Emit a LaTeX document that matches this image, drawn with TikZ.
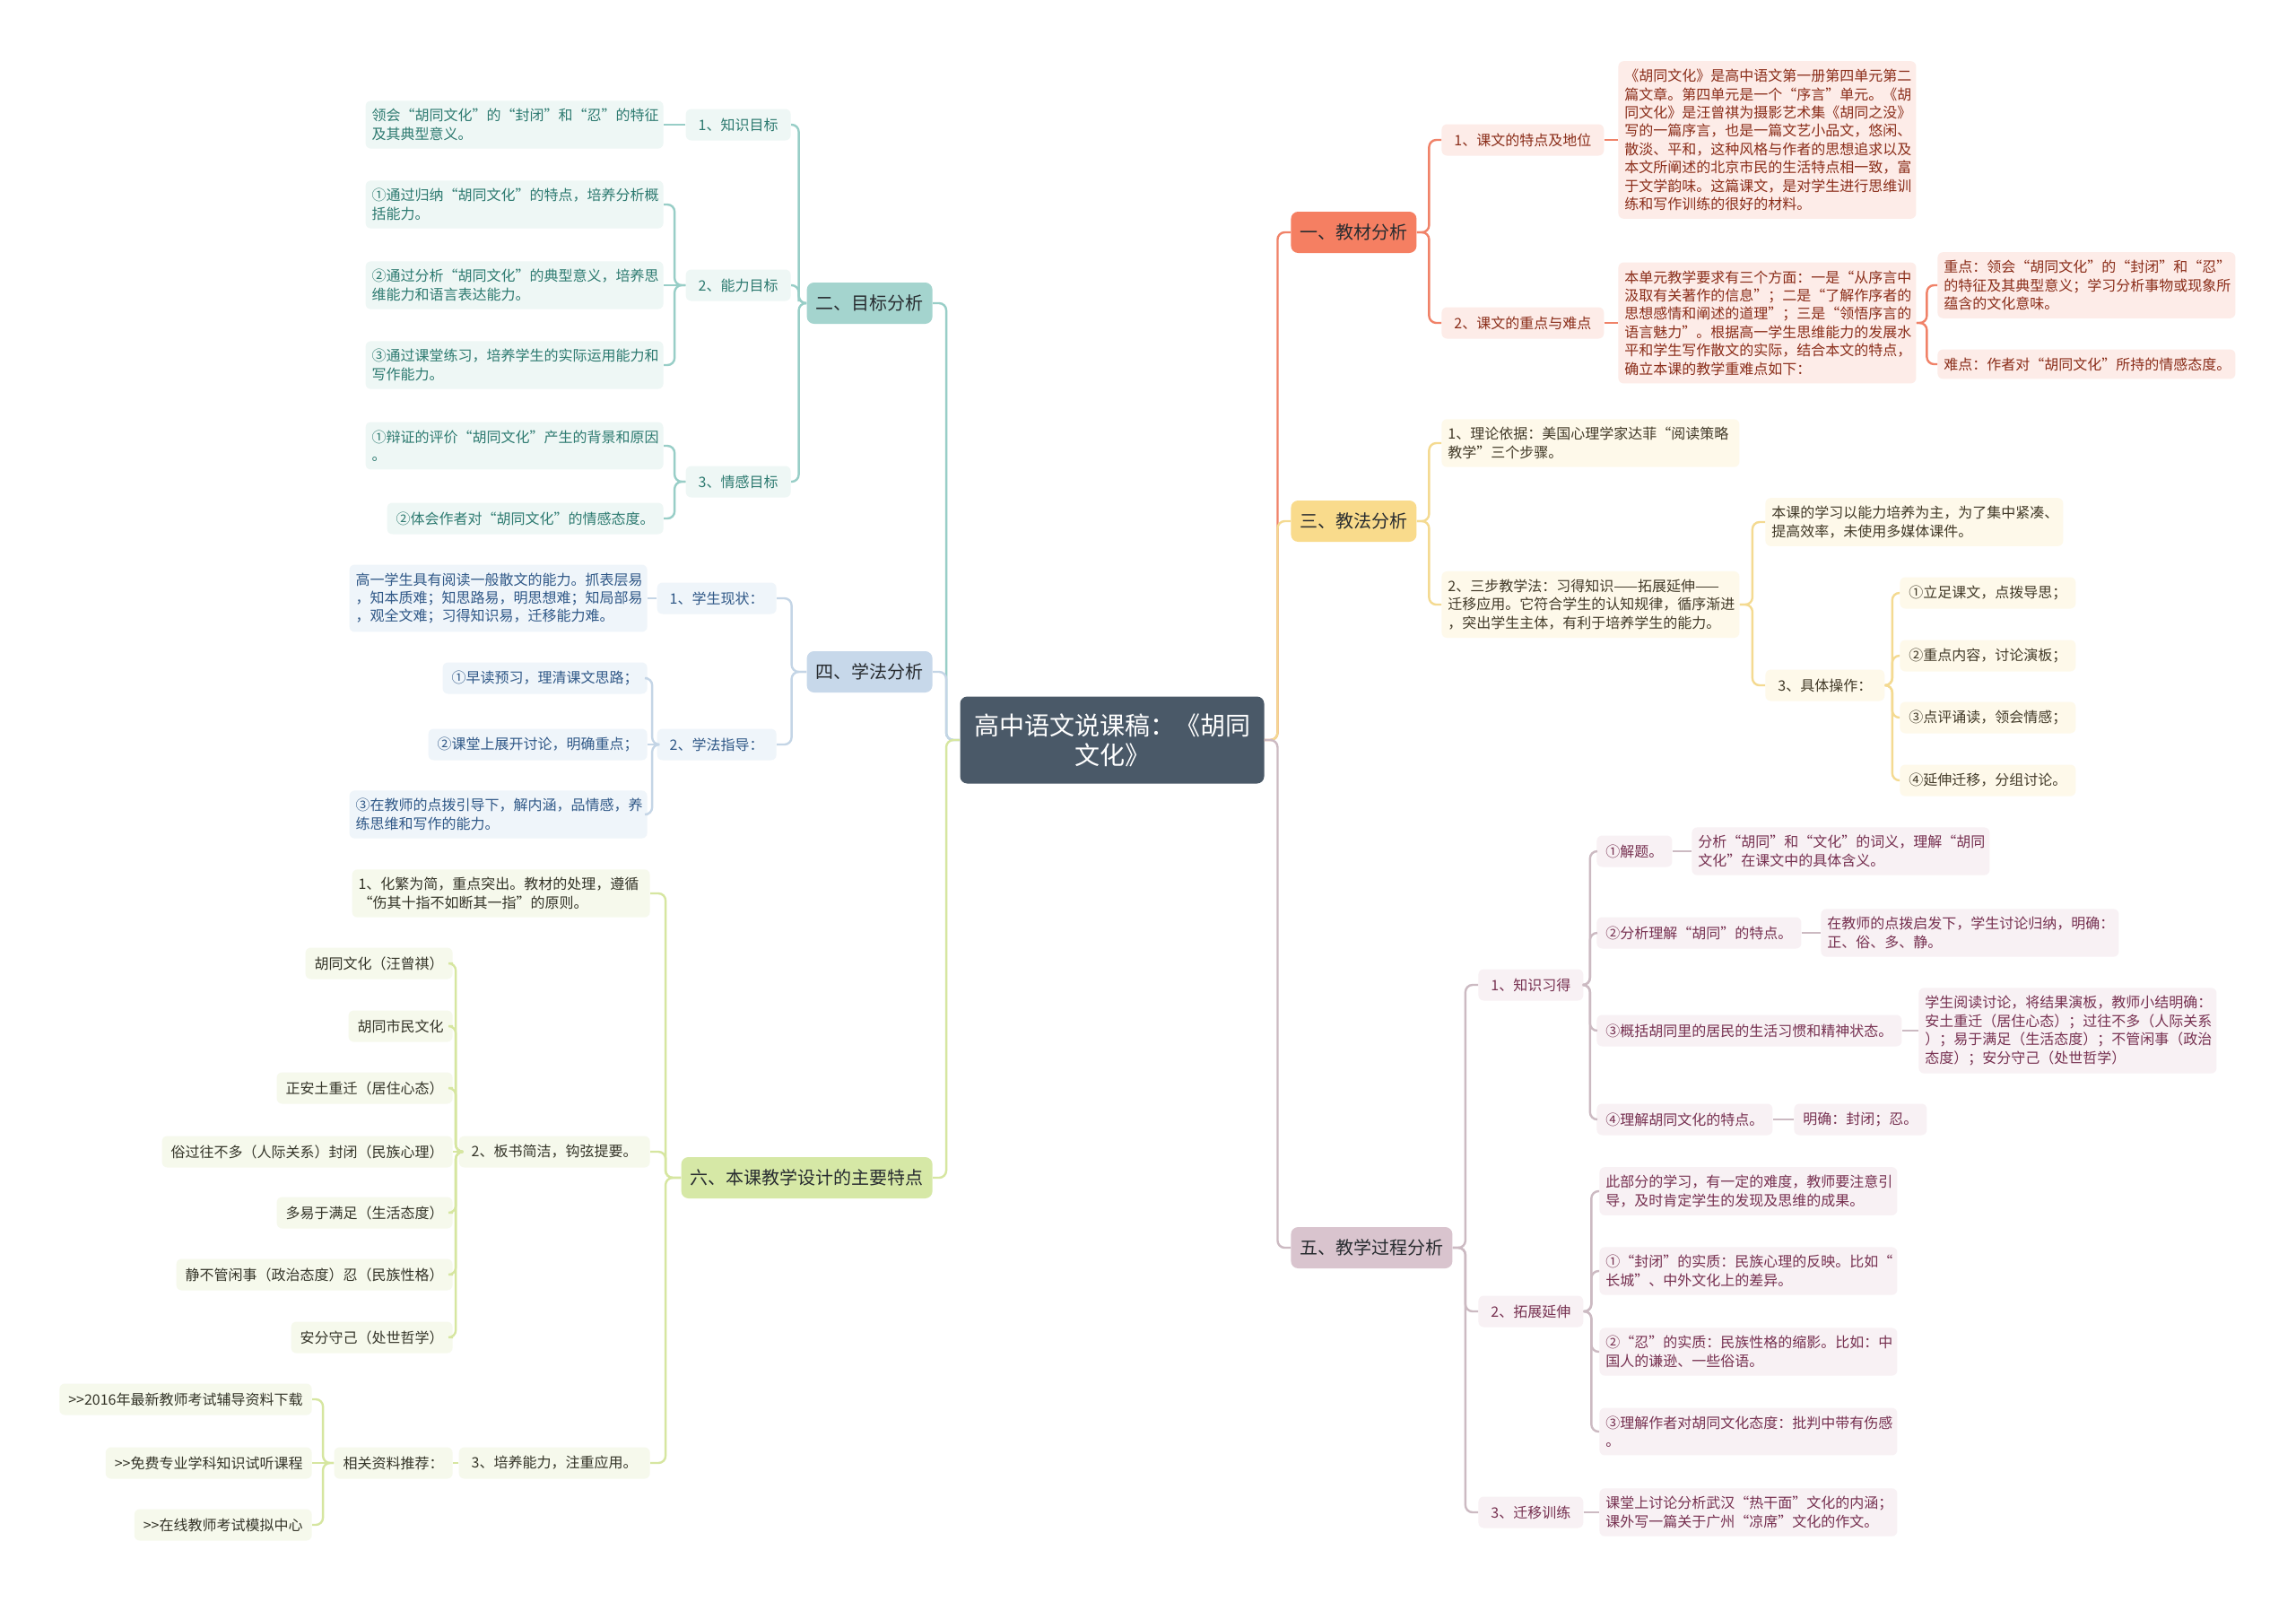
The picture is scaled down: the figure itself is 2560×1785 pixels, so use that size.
\documentclass[tikz,border=0pt]{standalone}
\usepackage{fontspec}
\setmainfont{Noto Sans CJK SC}
\usetikzlibrary{calc}
\definecolor{rootc}{RGB}{74,89,104}
\definecolor{topictxt}{RGB}{40,44,48}
\definecolor{jiaocai}{RGB}{245,127,98}
\definecolor{jiaocaibg}{RGB}{253,236,232}
\definecolor{jiaocaitx}{RGB}{138,45,25}
\definecolor{jiaocailn}{RGB}{240,130,104}
\definecolor{mubiao}{RGB}{164,212,206}
\definecolor{mubiaobg}{RGB}{238,247,245}
\definecolor{mubiaotx}{RGB}{45,122,112}
\definecolor{mubiaoln}{RGB}{152,206,199}
\definecolor{jiaofa}{RGB}{249,219,140}
\definecolor{jiaofabg}{RGB}{254,249,234}
\definecolor{jiaofatx}{RGB}{66,58,40}
\definecolor{jiaofaln}{RGB}{244,218,145}
\definecolor{xuefa}{RGB}{199,216,234}
\definecolor{xuefabg}{RGB}{239,245,250}
\definecolor{xuefatx}{RGB}{48,88,135}
\definecolor{xuefaln}{RGB}{196,213,230}
\definecolor{guocheng}{RGB}{217,196,206}
\definecolor{guochengbg}{RGB}{248,241,244}
\definecolor{guochengtx}{RGB}{118,48,80}
\definecolor{guochengln}{RGB}{204,186,194}
\definecolor{tedian}{RGB}{214,232,166}
\definecolor{tedianbg}{RGB}{246,249,236}
\definecolor{tediantx}{RGB}{52,52,40}
\definecolor{tedianln}{RGB}{214,230,160}

\tikzset{
  root/.style={fill=rootc, text=white, rounded corners=4pt, align=center,
    font=\fontsize{14}{16.5}\selectfont, minimum width=169.5pt, minimum height=48.5pt, inner sep=0pt},
  topic/.style={rounded corners=4pt, text=topictxt, font=\fontsize{10}{12}\selectfont,
    minimum height=23pt, inner xsep=5pt, inner ysep=0pt},
  sub/.style={rounded corners=3pt, font=\fontsize{8}{10}\selectfont,
    minimum height=17.5pt, inner xsep=7pt, inner ysep=0pt},
  leaf/.style={sub, inner xsep=5pt},
  card/.style={rounded corners=3pt, font=\fontsize{8}{10.2}\selectfont, text width=159pt,
    align=left, inner xsep=3.5pt, inner ysep=4.5pt},
  elbow/.style={line width=1.2pt, rounded corners=4pt,
    to path={-| ($(\tikztostart)!0.5!(\tikztotarget)$) |- (\tikztotarget)}},
  straight/.style={line width=1.2pt},
  jc/.style={fill=jiaocaibg, text=jiaocaitx},
  mb/.style={fill=mubiaobg, text=mubiaotx},
  jf/.style={fill=jiaofabg, text=jiaofatx},
  xf/.style={fill=xuefabg, text=xuefatx},
  gc/.style={fill=guochengbg, text=guochengtx},
  td/.style={fill=tedianbg, text=tediantx},
}

\begin{document}
\begin{tikzpicture}[x=0.5pt, y=-0.5pt]
  \useasboundingbox (0,0) rectangle (2560,1785);
  \fill[white] (0,0) rectangle (2560,1785);

  % Root
  \node[root] (root) at (1240,825) {高中语文说课稿：《胡同\\文化》};

  % --- 一、教材分析 ---
  \node[topic, fill=jiaocai, anchor=west] (jc) at (1439,259) {一、教材分析};
  \node[sub, jc, anchor=west] (jc1) at (1607,156) {1、课文的特点及地位};
  \node[card, jc, anchor=west] (jc1a) at (1804,156) {《胡同文化》是高中语文第一册第四单元第二\\篇文章。第四单元是一个“序言”单元。《胡\\同文化》是汪曾祺为摄影艺术集《胡同之没》\\写的一篇序言，也是一篇文艺小品文，悠闲、\\散淡、平和，这种风格与作者的思想追求以及\\本文所阐述的北京市民的生活特点相一致，富\\于文学韵味。这篇课文，是对学生进行思维训\\练和写作训练的很好的材料。};
  \node[sub, jc, anchor=west] (jc2) at (1607,360) {2、课文的重点与难点};
  \node[card, jc, anchor=west] (jc2a) at (1804,360) {本单元教学要求有三个方面：一是“从序言中\\汲取有关著作的信息”；二是“了解作序者的\\思想感情和阐述的道理”；三是“领悟序言的\\语言魅力”。根据高一学生思维能力的发展水\\平和学生写作散文的实际，结合本文的特点，\\确立本课的教学重难点如下：};
  \node[card, jc, anchor=west] (jc2b) at (2160,318) {重点：领会“胡同文化”的“封闭”和“忍”\\的特征及其典型意义；学习分析事物或现象所\\蕴含的文化意味。};
  \node[card, jc, anchor=west] (jc2c) at (2160,406) {难点：作者对“胡同文化”所持的情感态度。};

  % --- 三、教法分析 ---
  \node[topic, fill=jiaofa, anchor=west] (jf) at (1439,581) {三、教法分析};
  \node[card, jf, anchor=west] (jf1) at (1607,494) {1、理论依据：美国心理学家达菲“阅读策略\\教学”三个步骤。};
  \node[card, jf, anchor=west] (jf2) at (1607,674) {2、三步教学法：习得知识——拓展延伸——\\迁移应用。它符合学生的认知规律，循序渐进\\，突出学生主体，有利于培养学生的能力。};
  \node[card, jf, anchor=west] (jf2a) at (1968,582) {本课的学习以能力培养为主，为了集中紧凑、\\提高效率，未使用多媒体课件。};
  \node[sub, jf, anchor=west] (jf2b) at (1968,764) {3、具体操作：};
  \node[leaf, jf, anchor=west] (jf2b1) at (2118,661) {①立足课文，点拨导思；};
  \node[leaf, jf, anchor=west] (jf2b2) at (2118,731) {②重点内容，讨论演板；};
  \node[leaf, jf, anchor=west] (jf2b3) at (2118,800) {③点评诵读，领会情感；};
  \node[leaf, jf, anchor=west] (jf2b4) at (2118,870) {④延伸迁移，分组讨论。};

  % --- 五、教学过程分析 ---
  \node[topic, fill=guocheng, anchor=west] (gc) at (1439,1391) {五、教学过程分析};
  \node[sub, gc, anchor=west] (gc1) at (1648,1098) {1、知识习得};
  \node[leaf, gc, anchor=west] (gc11) at (1780,949) {①解题。};
  \node[card, gc, anchor=west] (gc11a) at (1886,949) {分析“胡同”和“文化”的词义，理解“胡同\\文化”在课文中的具体含义。};
  \node[leaf, gc, anchor=west] (gc12) at (1780,1040) {②分析理解“胡同”的特点。};
  \node[card, gc, anchor=west] (gc12a) at (2030,1040) {在教师的点拨启发下，学生讨论归纳，明确：\\正、俗、多、静。};
  \node[leaf, gc, anchor=west] (gc13) at (1780,1149) {③概括胡同里的居民的生活习惯和精神状态。};
  \node[card, gc, anchor=west] (gc13a) at (2139,1149) {学生阅读讨论，将结果演板，教师小结明确：\\安土重迁（居住心态）；过往不多（人际关系\\）；易于满足（生活态度）；不管闲事（政治\\态度）；安分守己（处世哲学）};
  \node[leaf, gc, anchor=west] (gc14) at (1780,1248) {④理解胡同文化的特点。};
  \node[leaf, gc, anchor=west] (gc14a) at (2000,1248) {明确：封闭；忍。};
  \node[sub, gc, anchor=west] (gc2) at (1648,1462) {2、拓展延伸};
  \node[card, gc, anchor=west] (gc21) at (1783,1328) {此部分的学习，有一定的难度，教师要注意引\\导，及时肯定学生的发现及思维的成果。};
  \node[card, gc, anchor=west] (gc22) at (1783,1417) {①“封闭”的实质：民族心理的反映。比如“\\长城”、中外文化上的差异。};
  \node[card, gc, anchor=west] (gc23) at (1783,1507) {②“忍”的实质：民族性格的缩影。比如：中\\国人的谦逊、一些俗语。};
  \node[card, gc, anchor=west] (gc24) at (1783,1596) {③理解作者对胡同文化态度：批判中带有伤感\\。};
  \node[sub, gc, anchor=west] (gc3) at (1648,1686) {3、迁移训练};
  \node[card, gc, anchor=west] (gc3a) at (1783,1686) {课堂上讨论分析武汉“热干面”文化的内涵；\\课外写一篇关于广州“凉席”文化的作文。};

  % --- 二、目标分析 ---
  \node[topic, fill=mubiao, anchor=east] (mb) at (1040,338) {二、目标分析};
  \node[sub, mb, anchor=east] (mb1) at (882,139) {1、知识目标};
  \node[card, mb, anchor=east] (mb1a) at (740,139) {领会“胡同文化”的“封闭”和“忍”的特征\\及其典型意义。};
  \node[sub, mb, anchor=east] (mb2) at (882,318) {2、能力目标};
  \node[card, mb, anchor=east] (mb21) at (740,228) {①通过归纳“胡同文化”的特点，培养分析概\\括能力。};
  \node[card, mb, anchor=east] (mb22) at (740,318) {②通过分析“胡同文化”的典型意义，培养思\\维能力和语言表达能力。};
  \node[card, mb, anchor=east] (mb23) at (740,407) {③通过课堂练习，培养学生的实际运用能力和\\写作能力。};
  \node[sub, mb, anchor=east] (mb3) at (882,537) {3、情感目标};
  \node[card, mb, anchor=east] (mb31) at (740,497) {①辩证的评价“胡同文化”产生的背景和原因\\。};
  \node[leaf, mb, anchor=east] (mb32) at (740,578) {②体会作者对“胡同文化”的情感态度。};

  % --- 四、学法分析 ---
  \node[topic, fill=xuefa, anchor=east] (xf) at (1040,749) {四、学法分析};
  \node[sub, xf, anchor=east] (xf1) at (866,667) {1、学生现状：};
  \node[card, xf, anchor=east] (xf1a) at (722,667) {高一学生具有阅读一般散文的能力。抓表层易\\，知本质难；知思路易，明思想难；知局部易\\，观全文难；习得知识易，迁移能力难。};
  \node[sub, xf, anchor=east] (xf2) at (866,830) {2、学法指导：};
  \node[leaf, xf, anchor=east] (xf21) at (722,756) {①早读预习，理清课文思路；};
  \node[leaf, xf, anchor=east] (xf22) at (722,830) {②课堂上展开讨论，明确重点；};
  \node[card, xf, anchor=east] (xf23) at (722,908) {③在教师的点拨引导下，解内涵，品情感，养\\练思维和写作的能力。};

  % --- 六、本课教学设计的主要特点 ---
  \node[topic, fill=tedian, anchor=east] (td) at (1040,1313) {六、本课教学设计的主要特点};
  \node[card, td, anchor=east] (td1) at (725,996) {1、化繁为简，重点突出。教材的处理，遵循\\“伤其十指不如断其一指”的原则。};
  \node[sub, td, anchor=east] (td2) at (725,1284) {2、板书简洁，钩弦提要。};
  \node[leaf, td, anchor=east] (td21) at (505,1074) {胡同文化（汪曾祺）};
  \node[leaf, td, anchor=east] (td22) at (505,1144) {胡同市民文化};
  \node[leaf, td, anchor=east] (td23) at (505,1213) {正安土重迁（居住心态）};
  \node[leaf, td, anchor=east] (td24) at (505,1284) {俗过往不多（人际关系）封闭（民族心理）};
  \node[leaf, td, anchor=east] (td25) at (505,1352) {多易于满足（生活态度）};
  \node[leaf, td, anchor=east] (td26) at (505,1421) {静不管闲事（政治态度）忍（民族性格）};
  \node[leaf, td, anchor=east] (td27) at (505,1491) {安分守己（处世哲学）};
  \node[sub, td, anchor=east] (td3) at (725,1631) {3、培养能力，注重应用。};
  \node[leaf, td, anchor=east] (td3a) at (505,1631) {相关资料推荐：};
  \node[leaf, td, anchor=east] (td3a1) at (348,1560) {>{}>2016年最新教师考试辅导资料下载};
  \node[leaf, td, anchor=east] (td3a2) at (348,1631) {>{}>免费专业学科知识试听课程};
  \node[leaf, td, anchor=east] (td3a3) at (348,1700) {>{}>在线教师考试模拟中心};

  % Connectors from root
  \draw[elbow, jiaocailn] (root.east) to (jc.west);
  \draw[elbow, jiaofaln] (root.east) to (jf.west);
  \draw[elbow, guochengln] (root.east) to (gc.west);
  \draw[elbow, mubiaoln] (root.west) to (mb.east);
  \draw[elbow, xuefaln] (root.west) to (xf.east);
  \draw[elbow, tedianln] (root.west) to (td.east);

  % Connectors, right side
  \draw[elbow, jiaocailn] (jc.east) to (jc1.west);
  \draw[elbow, jiaocailn] (jc.east) to (jc2.west);
  \draw[straight, jiaocailn] (jc1.east) -- (jc1a.west);
  \draw[straight, jiaocailn] (jc2.east) -- (jc2a.west);
  \draw[elbow, jiaocailn] (jc2a.east) to (jc2b.west);
  \draw[elbow, jiaocailn] (jc2a.east) to (jc2c.west);
  \draw[elbow, jiaofaln] (jf.east) to (jf1.west);
  \draw[elbow, jiaofaln] (jf.east) to (jf2.west);
  \draw[elbow, jiaofaln] (jf2.east) to (jf2a.west);
  \draw[elbow, jiaofaln] (jf2.east) to (jf2b.west);
  \draw[elbow, jiaofaln] (jf2b.east) to (jf2b1.west);
  \draw[elbow, jiaofaln] (jf2b.east) to (jf2b2.west);
  \draw[elbow, jiaofaln] (jf2b.east) to (jf2b3.west);
  \draw[elbow, jiaofaln] (jf2b.east) to (jf2b4.west);
  \draw[elbow, guochengln] (gc.east) to (gc1.west);
  \draw[elbow, guochengln] (gc.east) to (gc2.west);
  \draw[elbow, guochengln] (gc.east) to (gc3.west);
  \draw[elbow, guochengln] (gc1.east) to (gc11.west);
  \draw[elbow, guochengln] (gc1.east) to (gc12.west);
  \draw[elbow, guochengln] (gc1.east) to (gc13.west);
  \draw[elbow, guochengln] (gc1.east) to (gc14.west);
  \draw[straight, guochengln] (gc11.east) -- (gc11a.west);
  \draw[straight, guochengln] (gc12.east) -- (gc12a.west);
  \draw[straight, guochengln] (gc13.east) -- (gc13a.west);
  \draw[straight, guochengln] (gc14.east) -- (gc14a.west);
  \draw[elbow, guochengln] (gc2.east) to (gc21.west);
  \draw[elbow, guochengln] (gc2.east) to (gc22.west);
  \draw[elbow, guochengln] (gc2.east) to (gc23.west);
  \draw[elbow, guochengln] (gc2.east) to (gc24.west);
  \draw[straight, guochengln] (gc3.east) -- (gc3a.west);

  % Connectors, left side
  \draw[elbow, mubiaoln] (mb.west) to (mb1.east);
  \draw[elbow, mubiaoln] (mb.west) to (mb2.east);
  \draw[elbow, mubiaoln] (mb.west) to (mb3.east);
  \draw[straight, mubiaoln] (mb1.west) -- (mb1a.east);
  \draw[elbow, mubiaoln] (mb2.west) to (mb21.east);
  \draw[straight, mubiaoln] (mb2.west) -- (mb22.east);
  \draw[elbow, mubiaoln] (mb2.west) to (mb23.east);
  \draw[elbow, mubiaoln] (mb3.west) to (mb31.east);
  \draw[elbow, mubiaoln] (mb3.west) to (mb32.east);
  \draw[elbow, xuefaln] (xf.west) to (xf1.east);
  \draw[elbow, xuefaln] (xf.west) to (xf2.east);
  \draw[straight, xuefaln] (xf1.west) -- (xf1a.east);
  \draw[elbow, xuefaln] (xf2.west) to (xf21.east);
  \draw[straight, xuefaln] (xf2.west) -- (xf22.east);
  \draw[elbow, xuefaln] (xf2.west) to (xf23.east);
  \draw[elbow, tedianln] (td.west) to (td1.east);
  \draw[elbow, tedianln] (td.west) to (td2.east);
  \draw[elbow, tedianln] (td.west) to (td3.east);
  \draw[elbow, tedianln] (td2.west) to (td21.east);
  \draw[elbow, tedianln] (td2.west) to (td22.east);
  \draw[elbow, tedianln] (td2.west) to (td23.east);
  \draw[straight, tedianln] (td2.west) -- (td24.east);
  \draw[elbow, tedianln] (td2.west) to (td25.east);
  \draw[elbow, tedianln] (td2.west) to (td26.east);
  \draw[elbow, tedianln] (td2.west) to (td27.east);
  \draw[straight, tedianln] (td3.west) -- (td3a.east);
  \draw[elbow, tedianln] (td3a.west) to (td3a1.east);
  \draw[straight, tedianln] (td3a.west) -- (td3a2.east);
  \draw[elbow, tedianln] (td3a.west) to (td3a3.east);
\end{tikzpicture}
\end{document}
